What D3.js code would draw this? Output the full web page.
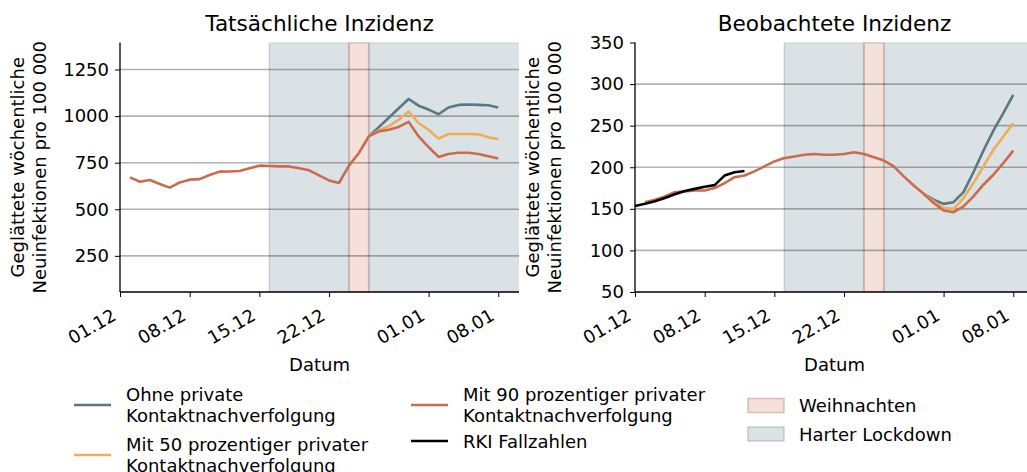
<!DOCTYPE html>
<html>
<head>
<meta charset="utf-8">
<script src="https://cdn.jsdelivr.net/npm/d3@7"></script>
<style>
  body { margin: 0; background: #fff; }
  text { font-family: "DejaVu Sans", sans-serif; fill: #000; }
</style>
</head>
<body>
<div id="chart"></div>
<script>
// Day 0 = 01.12.2020
const startDate = new Date(2020, 11, 1);
const tickLabels = ["01.12", "08.12", "15.12", "22.12", "01.01", "08.01"];

// Tatsächliche Inzidenz (days 1..38)
const trueMit90 = [671, 648, 657, 636, 616, 644, 659, 662, 684, 702, 703, 705, 720, 734, 732, 730, 730, 720, 709, 682,
                   655, 641, 734, 802, 892, 918, 927, 942, 969, 891, 834, 781, 797, 803, 803, 797, 784, 772];
// from day 25
const trueOhne = [891, 941, 991, 1042, 1092, 1056, 1035, 1010, 1046, 1060, 1062, 1060, 1058, 1046];
const trueMit50 = [891, 924, 945, 981, 1024, 963, 927, 879, 904, 904, 904, 902, 886, 877];

// Beobachtete Inzidenz (days 1..38)
const obsMit90 = [158, 161, 165, 170, 171, 172, 172, 175, 181, 188, 190, 195, 201, 207, 211, 213, 215, 216, 215, 215,
                  216, 218, 216, 212, 208, 201, 189, 178, 168, 157, 148, 146, 153, 165, 179, 191, 205, 220];
// from day 29
const obsOhne = [168, 161, 156, 158, 170, 194, 220, 244, 265, 287];
const obsMit50 = [168, 159, 151, 150, 163, 181, 201, 221, 237, 253];
// RKI case numbers, days 0..11
const rkiCases = [153.5, 156, 159, 163, 167.5, 171.5, 174, 176.5, 178.5, 190, 194, 195.5];

// periods (days from 01.12)
const christmas = [23, 25];
const lockdown = [15, 41];

const colors = { ohne: "#587886", mit50: "#f1ac57", mit90: "#cc6b4b", rki: "#000000" };

const day = d => d3.timeDay.offset(startDate, d);
const toPoints = (arr, first) => arr.map((v, i) => ({ date: day(first + i), v }));

const panels = [
  {
    title: "Tatsächliche Inzidenz", left: 120, yDomain: [56, 1395], yTicks: [250, 500, 750, 1000, 1250],
    series: [
      { data: toPoints(trueOhne, 25), color: colors.ohne },
      { data: toPoints(trueMit50, 25), color: colors.mit50 },
      { data: toPoints(trueMit90, 1), color: colors.mit90 }
    ]
  },
  {
    title: "Beobachtete Inzidenz", left: 635, yDomain: [50, 350], yTicks: [50, 100, 150, 200, 250, 300, 350],
    series: [
      { data: toPoints(obsOhne, 29), color: colors.ohne },
      { data: toPoints(obsMit50, 29), color: colors.mit50 },
      { data: toPoints(obsMit90, 1), color: colors.mit90 },
      { data: toPoints(rkiCases, 0), color: colors.rki }
    ]
  }
];

const W = 1027, H = 472;
const plotTop = 42.5, plotBottom = 292, plotW = 399;

const svg = d3.select("#chart").append("svg")
  .attr("width", W).attr("height", H);

panels.forEach((p, pi) => {
  const g = svg.append("g").attr("transform", `translate(${p.left},0)`);

  // clip shading to the plot area
  svg.append("clipPath").attr("id", "clip" + pi)
    .append("rect").attr("x", 0).attr("y", plotTop).attr("width", plotW).attr("height", plotBottom - plotTop);

  const x = d3.scaleTime()
    .domain([startDate, d3.timeHour.offset(startDate, 40.1 * 24)])
    .range([0, plotW]);
  const y = d3.scaleLinear().domain(p.yDomain).range([plotBottom, plotTop]);

  // shaded periods
  const shade = g.append("g").attr("clip-path", `url(#clip${pi})`);
  shade.append("rect")
    .attr("x", x(day(lockdown[0]))).attr("y", plotTop)
    .attr("width", x(day(lockdown[1])) - x(day(lockdown[0]))).attr("height", plotBottom - plotTop)
    .attr("fill", "#dbe2e6").attr("stroke", "rgba(90,120,135,0.25)").attr("stroke-width", 1.5);
  shade.append("rect")
    .attr("x", x(day(christmas[0]))).attr("y", plotTop)
    .attr("width", x(day(christmas[1])) - x(day(christmas[0]))).attr("height", plotBottom - plotTop)
    .attr("fill", "#f4e1db").attr("stroke", "rgba(150,95,85,0.35)").attr("stroke-width", 2);

  // horizontal grid
  g.append("g")
    .selectAll("line")
    .data(p.yTicks.filter(t => y(t) > plotTop + 1 && y(t) < plotBottom - 1))
    .enter().append("line")
    .attr("x1", 0).attr("x2", plotW)
    .attr("y1", d => y(d)).attr("y2", d => y(d))
    .attr("stroke", "rgba(0,0,0,0.3)").attr("stroke-width", 1.6);

  // lines
  const line = d3.line().x(d => x(d.date)).y(d => y(d.v));
  p.series.forEach(s => {
    g.append("path").datum(s.data)
      .attr("d", line)
      .attr("fill", "none")
      .attr("stroke", s.color)
      .attr("stroke-width", 2.6)
      .attr("stroke-linejoin", "round");
  });

  // axes
  const tickDates = [0, 7, 14, 21, 31, 38].map(day);
  const xAxis = g.append("g")
    .attr("transform", `translate(0,${plotBottom})`)
    .call(d3.axisBottom(x).tickValues(tickDates).tickFormat((d, i) => tickLabels[i]).tickSizeOuter(0).tickSize(5));
  xAxis.select(".domain").attr("stroke", "#000").attr("stroke-width", 1.3).attr("d", `M0,0H${plotW}`);
  xAxis.selectAll("text")
    .attr("font-size", 18)
    .attr("text-anchor", "end")
    .attr("y", 0).attr("dy", 0)
    .attr("transform", "translate(-3,27) rotate(-30)");

  const yAxis = g.append("g")
    .call(d3.axisLeft(y).tickValues(p.yTicks).tickFormat(d3.format("d")).tickSizeOuter(0).tickSize(5).tickPadding(6));
  yAxis.select(".domain").attr("stroke", "#000").attr("stroke-width", 1.3).attr("d", `M0,${plotBottom}V${plotTop}`);
  yAxis.selectAll("text").attr("font-size", 18);

  // title
  g.append("text")
    .attr("x", plotW / 2).attr("y", 31)
    .attr("text-anchor", "middle").attr("font-size", 21.6)
    .text(p.title);

  // x label
  g.append("text")
    .attr("x", plotW / 2).attr("y", 371)
    .attr("text-anchor", "middle").attr("font-size", 18)
    .text("Datum");

  // y label (two lines)
  const yl = g.append("text")
    .attr("transform", `translate(-96,${(plotTop + plotBottom) / 2}) rotate(-90)`)
    .attr("text-anchor", "middle").attr("font-size", 18);
  yl.append("tspan").attr("x", 0).attr("dy", 0).text("Geglättete wöchentliche");
  yl.append("tspan").attr("x", 0).attr("dy", 21.6).text("Neuinfektionen pro 100 000");
});

// legend
const legendLines = [
  { x: 74, y: 405, color: colors.ohne, lines: ["Ohne private", "Kontaktnachverfolgung"] },
  { x: 74, y: 455, color: colors.mit50, lines: ["Mit 50 prozentiger privater", "Kontaktnachverfolgung"] },
  { x: 411, y: 405, color: colors.mit90, lines: ["Mit 90 prozentiger privater", "Kontaktnachverfolgung"] },
  { x: 411, y: 441, color: colors.rki, lines: ["RKI Fallzahlen"] }
];
const legend = svg.append("g");
legendLines.forEach(l => {
  legend.append("line")
    .attr("x1", l.x).attr("x2", l.x + 37).attr("y1", l.y).attr("y2", l.y)
    .attr("stroke", l.color).attr("stroke-width", 2.6);
  const t = legend.append("text").attr("font-size", 18);
  const n = l.lines.length;
  l.lines.forEach((s, i) => {
    t.append("tspan").attr("x", l.x + 52)
      .attr("y", l.y + 6.5 + (i - (n - 1) / 2) * 21.6)
      .text(s);
  });
});
const legendPatches = [
  { y: 405.5, fill: "#f4e1db", stroke: "rgba(150,95,85,0.35)", label: "Weihnachten" },
  { y: 434, fill: "#dbe2e6", stroke: "rgba(90,120,135,0.3)", label: "Harter Lockdown" }
];
legendPatches.forEach(l => {
  legend.append("rect")
    .attr("x", 748).attr("y", l.y - 7).attr("width", 36).attr("height", 14)
    .attr("fill", l.fill).attr("stroke", l.stroke).attr("stroke-width", 1.5);
  legend.append("text").attr("x", 799).attr("y", l.y + 6.5).attr("font-size", 18).text(l.label);
});
</script>
</body>
</html>
